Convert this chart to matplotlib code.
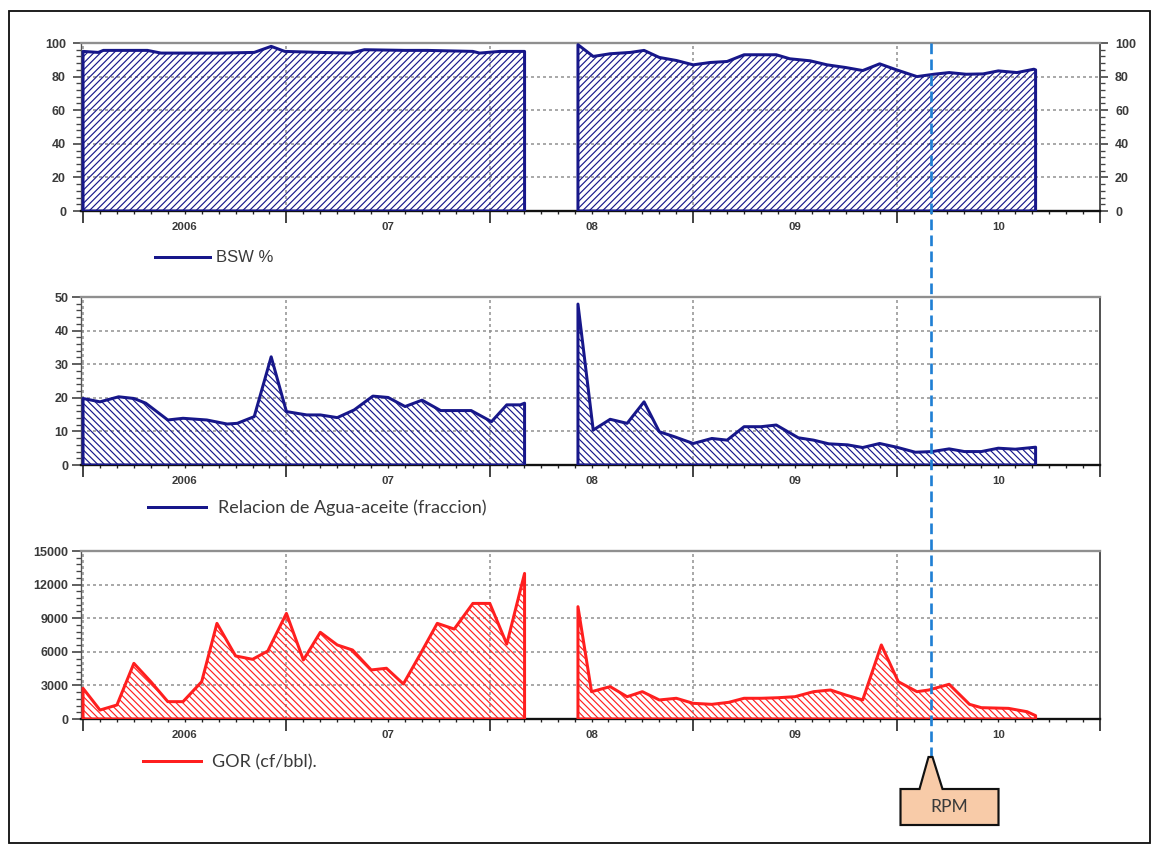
import matplotlib.pyplot as plt
import numpy as np
import matplotlib.transforms as mtransforms
from matplotlib.lines import Line2D
from matplotlib.patches import Rectangle, Polygon
from matplotlib.ticker import FuncFormatter, AutoMinorLocator

# meses contados desde enero 2006
bsw_mes_a = [0, 0.9, 1.2, 3.8, 4.6, 8.1, 10.1, 11.1, 11.9, 14.0, 15.8, 16.6, 19.0, 20.3, 23.0, 23.4, 24.6, 26.05]
bsw_a = [95, 94.4, 95.6, 95.6, 94, 94, 94.4, 98, 95, 94.4, 94, 96, 95.6, 95.6, 95, 94, 95, 95]
bsw_mes_b = [29.2, 30.1, 31.1, 32.3, 33.1, 34.0, 35.0, 36.0, 37.0, 38.0, 39.0, 40.9, 41.7, 42.9,
             43.9, 45.0, 46.0, 47.0, 48.0, 49.2, 50.2, 51.1, 52.1, 53.1, 54.0, 55.1, 56.1, 56.2]
bsw_b = [99, 92, 93.6, 94.4, 95.6, 91.4, 89.6, 87, 88.4, 89, 93, 93, 90.6, 89.4,
         87, 85.4, 83.6, 87.6, 84, 80, 81.4, 82.4, 81.4, 81.6, 83.4, 82.4, 84.4, 84]

rao_mes_a = [0, 1.0, 2.1, 3.0, 3.7, 5.0, 5.9, 7.3, 8.5, 9.1, 10.1, 11.1, 12.0, 13.2, 14.0, 15.0,
             16.0, 17.1, 18.0, 19.0, 20.0, 21.1, 22.9, 24.1, 25.0, 25.8, 26.05]
rao_a = [19.8, 18.8, 20.3, 19.8, 18.4, 13.4, 13.9, 13.4, 12.2, 12.4, 14.4, 32.2, 15.9, 14.9, 14.9, 14.1,
         16.4, 20.5, 20.1, 17.4, 19.3, 16.2, 16.2, 12.9, 17.9, 17.9, 18.4]
rao_mes_b = [29.2, 30.1, 31.1, 32.1, 33.1, 34.0, 34.9, 36.0, 37.1, 38.0, 39.0, 40.0, 40.9, 42.2,
             43.1, 44.0, 45.1, 46.0, 47.0, 48.0, 49.1, 50.1, 51.1, 52.0, 53.0, 54.0, 55.0, 56.2]
rao_b = [47.9, 10.4, 13.6, 12.4, 18.8, 9.9, 8.4, 6.4, 7.9, 7.4, 11.4, 11.4, 11.9, 8.1,
         7.4, 6.3, 6.0, 5.2, 6.4, 5.3, 3.8, 4.0, 4.8, 4.0, 4.0, 5.0, 4.7, 5.3]

gor_mes_a = [0, 1.0, 2.0, 3.0, 4.0, 5.0, 5.9, 7.0, 7.9, 9.0, 10.0, 10.9, 12.0, 13.0, 14.0,
             15.0, 15.9, 17.0, 17.9, 18.9, 19.9, 20.9, 21.9, 23.0, 24.0, 25.0, 26.05]
gor_a = [2740, 800, 1250, 4970, 3330, 1550, 1550, 3330, 8540, 5630, 5330, 6070, 9430, 5270, 7740,
         6610, 6160, 4380, 4530, 3130, 5800, 8540, 8030, 10320, 10320, 6690, 13000]
gor_mes_b = [29.2, 30.0, 31.1, 32.1, 33.0, 34.0, 35.0, 36.0, 37.1, 38.1, 39.0, 40.0, 41.0, 42.0,
             43.1, 44.1, 45.0, 46.0, 47.1, 48.1, 49.2, 49.9, 51.1, 52.3, 53.0, 54.6, 55.7, 56.2]
gor_b = [10030, 2440, 2890, 1990, 2440, 1700, 1850, 1400, 1310, 1490, 1850, 1850, 1900, 1990,
         2440, 2590, 2140, 1700, 6610, 3330, 2440, 2590, 3100, 1310, 1010, 950, 650, 300]

etiquetas_x = {6: '2006', 18: '07', 30: '08', 42: '09', 54: '10'}
rpm_mes = 50.0

azul = '#17178a'
rojo = '#ff1f1f'
gris = '#8f8f8f'
texto = '#3a3a3a'

plt.rcParams['hatch.linewidth'] = 0.7

W, H, DPI = 1155, 844, 120
fig = plt.figure(figsize=(W / DPI, H / DPI), dpi=DPI)


def fy(py):
    return 1 - py / H


def panel(top, bot, ymax, ystep, series, color, hatch):
    ax = fig.add_axes([81 / W, fy(bot), (1100 - 81) / W, (bot - top) / H])
    for x, y in series:
        ax.fill_between(x, y, 0, facecolor='none', edgecolor=color, hatch=hatch,
                        lw=1.8, zorder=3)
    ax.set_xlim(-0.12, 60)
    ax.set_ylim(0, ymax)
    ax.set_yticks(np.arange(0, ymax + 1, ystep))
    ax.yaxis.set_minor_locator(AutoMinorLocator(5))
    ax.set_xticks(range(0, 61, 12))
    ax.set_xticklabels([])
    ax.set_xticks(np.arange(0, 61), minor=True)
    ax.xaxis.set_minor_formatter(FuncFormatter(lambda v, p: etiquetas_x.get(int(round(v)), '')))
    ax.grid(True, which='major', color=gris, ls=(0, (2, 2)), lw=0.9, zorder=1)
    ax.tick_params(axis='x', which='major', length=7, width=1, color='#222')
    ax.tick_params(axis='x', which='minor', length=2, width=0.8, color='#222', pad=4.5,
                   labelsize=6.8, labelcolor=texto)
    ax.tick_params(axis='y', which='major', length=5.5, width=1, color='#444', pad=2,
                   labelsize=7.5, labelcolor=texto)
    ax.tick_params(axis='y', which='minor', length=3, width=0.8, color='#444')
    for lab in ax.get_xticklabels(minor=True) + ax.get_yticklabels():
        lab.set_fontweight('bold')
        lab.set_family('Liberation Sans')
    ax.spines['bottom'].set_color('#111')
    ax.spines['bottom'].set_linewidth(1.4)
    ax.spines['top'].set_color(gris)
    ax.spines['top'].set_linewidth(1.4)
    ax.spines['right'].set_color('#555')
    ax.spines['right'].set_linewidth(1.2)
    ax.spines['left'].set_color('#555')
    ax.spines['left'].set_linewidth(0.8)
    return ax


ax1 = panel(43, 211, 100, 20, [(bsw_mes_a, bsw_a), (bsw_mes_b, bsw_b)], azul, '//////')
ax1.tick_params(axis='y', which='both', right=True, labelright=True)
ax1.tick_params(axis='y', which='major', length=5, pad=4)
for lab in ax1.get_yticklabels(which='both'):
    lab.set_fontweight('bold')
    lab.set_family('Liberation Sans')

ax2 = panel(297, 465, 50, 10, [(rao_mes_a, rao_a), (rao_mes_b, rao_b)], azul, '\\' * 6)
ax3 = panel(551, 719, 15000, 3000, [(gor_mes_a, gor_a), (gor_mes_b, gor_b)], rojo, '\\' * 6)

# leyendas bajo cada panel
fig.legend(handles=[Line2D([], [], color=azul, lw=1.8)], labels=['BSW %'],
           loc='center left', bbox_to_anchor=(155 / W, fy(258)), frameon=False,
           borderpad=0, borderaxespad=0, handlelength=3.3, handletextpad=0.35,
           prop={'family': 'Liberation Sans', 'size': 10}, labelcolor=texto)
fig.legend(handles=[Line2D([], [], color=azul, lw=1.8)],
           labels=['Relacion de Agua-aceite (fraccion)'],
           loc='center left', bbox_to_anchor=(148 / W, fy(508)), frameon=False,
           borderpad=0, borderaxespad=0, handlelength=3.2, handletextpad=0.7,
           prop={'family': 'Lato', 'size': 10.8}, labelcolor=texto)
fig.legend(handles=[Line2D([], [], color=rojo, lw=1.8)], labels=['GOR (cf/bbl).'],
           loc='center left', bbox_to_anchor=(143 / W, fy(762)), frameon=False,
           borderpad=0, borderaxespad=0, handlelength=3.2, handletextpad=0.65,
           prop={'family': 'Lato', 'size': 10.8}, labelcolor=texto)

# linea vertical RPM que cruza los tres paneles
trans = mtransforms.blended_transform_factory(ax3.transData, fig.transFigure)
fig.add_artist(Line2D([rpm_mes, rpm_mes], [fy(43), fy(757)], transform=trans,
                      color='#1f7fd4', lw=1.6, ls=(0, (4, 2)), zorder=10))

# globo con la etiqueta RPM
xr = ax3.transData.transform((rpm_mes, 0))[0]
top, bot = 789, 825
globo = [(xr - 30, top), (xr - 11, top), (xr - 2, 757), (xr + 2, 757), (xr + 12, top),
         (xr + 68, top), (xr + 68, bot), (xr - 30, bot)]
fig.add_artist(Polygon([(px / W, fy(py)) for px, py in globo], closed=True,
                       transform=fig.transFigure, facecolor='#f8cba8', edgecolor='#111',
                       lw=1.3, zorder=11))
fig.text((xr + 19) / W, fy((top + bot) / 2), 'RPM', ha='center', va='center',
         family='Lato', fontsize=10.5, color=texto, zorder=12)

fig.add_artist(Rectangle((9 / W, fy(843)), (1150 - 9) / W, (843 - 11) / H, fill=False,
                         edgecolor='#111', lw=1.1, transform=fig.transFigure))

fig.savefig('out.png', dpi=DPI)
